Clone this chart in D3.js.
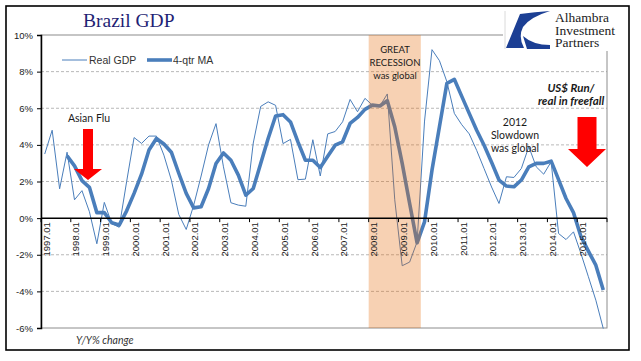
<!DOCTYPE html>
<html lang="en">
<head>
<meta charset="UTF-8">
<title>Brazil GDP</title>
<script src="https://cdn.jsdelivr.net/npm/d3@7"></script>
<style>
  body { margin: 0; background: #fff; }
  svg { display: block; }
</style>
</head>
<body>
<svg width="641" height="361" id="mainsvg"></svg>
<script>
// quarterly categories, 1997.01 .. 2015.04
const years = [1997, 1998, 1999, 2000, 2001, 2002, 2003, 2004, 2005, 2006,
               2007, 2008, 2009, 2010, 2011, 2012, 2013, 2014, 2015];
const quarters = ['01', '02', '03', '04'];
const categories = years.flatMap(y => quarters.map(q => `${y}.${q}`));

// Real GDP, Y/Y %
const realGdp = [
  3.5, 4.8, 1.6, 3.6,   1.0, 1.5, 0.35, -1.4,   0.86, -0.3, -0.5, 2.0,
  4.4, 4.08, 4.48, 4.48,   3.44, 2.08, 0.2, -0.62,   0.7, 2.3, 4.0, 5.16,
  2.8, 0.84, 0.71, 0.65,   4.1, 6.1, 6.35, 6.16,   4.07, 4.3, 2.1, 2.13,
  4.28, 2.3, 4.6, 4.73,   5.26, 6.48, 5.81, 6.54,   6.17, 6.12, 6.78, 1.0,
  -2.6, -2.4, -1.3, 5.3,   9.2, 8.6, 7.45, 5.72,   5.1, 4.6, 3.7, 2.7,
  1.7, 0.8, 2.26, 2.22,   2.71, 3.9, 2.8, 2.4,   3.08, -0.84, -1.17, -0.75,
  -1.93, -3.2, -4.48, -6.03
];

// 4-quarter moving average
const gdpMA = [
  null, null, null, 3.4,   2.85, 2.05, 1.68, 0.3,   0.3, -0.25, -0.38, 0.4,
  1.35, 2.4, 3.72, 4.35,   4.05, 3.6, 2.45, 1.35,   0.56, 0.62, 1.62, 2.98,
  3.56, 3.16, 2.35, 1.25,   1.62, 2.98, 4.35, 5.58,   5.65, 5.25, 4.16, 3.16,
  3.16, 2.76, 3.38, 3.98,   4.17, 5.17, 5.5, 5.94,   6.17, 6.12, 6.41, 4.99,
  2.99, 0.8, -1.35, -0.2,   2.62, 4.99, 7.36, 7.58,   6.65, 5.72, 4.8, 3.98,
  3.05, 2.08, 1.75, 1.71,   2.08, 2.8, 2.99, 2.99,   3.11, 2.1, 1.07, 0.3,
  -1.0, -1.8, -2.57, -3.93
];

const yTicks = [-6, -4, -2, 0, 2, 4, 6, 8, 10];
const recession = ['2008.01', '2009.03'];

const svg = d3.select('#mainsvg');
const plot = { left: 41, right: 607, top: 35, bottom: 328 };

const x = d3.scaleBand().domain(categories).range([plot.left, plot.right]).padding(0);
const y = d3.scaleLinear().domain([-6, 10]).range([plot.bottom, plot.top]);
const xc = d => x(d) + x.bandwidth() / 2;

// outer frame
svg.append('rect').attr('x', 6).attr('y', 6).attr('width', 623).attr('height', 344)
  .attr('fill', '#fff').attr('stroke', '#000').attr('stroke-width', 1.6);

// gridlines
svg.append('g').selectAll('line').data(yTicks.filter(t => t !== 0 && t !== -6 && t !== 10)).join('line')
  .attr('x1', plot.left).attr('x2', plot.right)
  .attr('y1', d => y(d)).attr('y2', d => y(d))
  .attr('stroke', '#a6a6a6').attr('stroke-width', 0.8).attr('stroke-dasharray', '3,2');

// plot border
svg.append('rect').attr('x', plot.left).attr('y', plot.top)
  .attr('width', plot.right - plot.left).attr('height', plot.bottom - plot.top)
  .attr('fill', 'none').attr('stroke', '#8c8c8c').attr('stroke-width', 1);

// lines
const line = d3.line().defined(d => d[1] != null).x(d => xc(d[0])).y(d => y(d[1]));
svg.append('path').datum(categories.map((c, i) => [c, realGdp[i]]))
  .attr('d', line).attr('fill', 'none').attr('stroke', '#4a7ebb').attr('stroke-width', 1)
  .attr('stroke-linejoin', 'miter');
svg.append('path').datum(categories.map((c, i) => [c, gdpMA[i]]))
  .attr('d', line).attr('fill', 'none').attr('stroke', '#4a7ebb').attr('stroke-width', 3.6)
  .attr('stroke-linejoin', 'round');

// recession shading (drawn over the lines, translucent)
svg.append('rect')
  .attr('x', x(recession[0])).attr('y', plot.top)
  .attr('width', x(recession[1]) + x.bandwidth() - x(recession[0]))
  .attr('height', plot.bottom - plot.top)
  .attr('fill', '#e46c0a').attr('opacity', 0.31);

// y axis
const yAxis = d3.axisLeft(y).tickValues(yTicks).tickFormat(d => d + '%').tickSize(4).tickPadding(4);
const yg = svg.append('g').attr('transform', `translate(${plot.left},0)`).call(yAxis);
yg.select('.domain').attr('stroke', '#000').attr('stroke-width', 1.5);
yg.selectAll('.tick line').attr('stroke', '#000');
yg.selectAll('text').attr('font-family', 'Liberation Sans, Arial, sans-serif')
  .attr('font-size', 9.5).attr('fill', '#222');

// x axis at 0%
const q1 = categories.filter(c => c.endsWith('.01'));
const xg = svg.append('g');
xg.append('line').attr('x1', plot.left).attr('x2', plot.right)
  .attr('y1', y(0)).attr('y2', y(0)).attr('stroke', '#000').attr('stroke-width', 1.5);
xg.selectAll('.xt').data(q1.map(c => x(c)).concat([plot.right])).join('line')
  .attr('class', 'xt')
  .attr('x1', d => d).attr('x2', d => d)
  .attr('y1', y(0)).attr('y2', y(0) + 4)
  .attr('stroke', '#000').attr('stroke-width', 1);
xg.selectAll('.xl').data(q1).join('text')
  .attr('class', 'xl')
  .attr('transform', d => `translate(${xc(d) + 1.5},${y(0) + 4}) rotate(-90)`)
  .attr('text-anchor', 'end').attr('dy', '0.35em')
  .attr('font-family', 'Liberation Sans, Arial, sans-serif')
  .attr('font-size', 9.5).attr('fill', '#222')
  .text(d => d);

// title
svg.append('text').attr('x', 83).attr('y', 27)
  .attr('font-family', 'Liberation Serif, Times New Roman, serif')
  .attr('font-size', 19.5).attr('fill', '#1f1f75').text('Brazil GDP');

// legend
const lg = svg.append('g').attr('font-family', 'Liberation Sans, Arial, sans-serif')
  .attr('font-size', 10.5).attr('fill', '#333');
lg.append('line').attr('x1', 62).attr('x2', 87).attr('y1', 60).attr('y2', 60)
  .attr('stroke', '#4a7ebb').attr('stroke-width', 1);
lg.append('text').attr('x', 89).attr('y', 60).attr('dy', '0.35em').text('Real GDP');
lg.append('line').attr('x1', 147).attr('x2', 172).attr('y1', 60).attr('y2', 60)
  .attr('stroke', '#4a7ebb').attr('stroke-width', 3.6);
lg.append('text').attr('x', 173).attr('y', 60).attr('dy', '0.35em').text('4-qtr MA');

// annotations
const note = (lines, cx, cy, size, style) => {
  const t = svg.append('text').attr('text-anchor', 'middle')
    .attr('font-family', 'Lato, Calibri, sans-serif').attr('font-size', size)
    .attr('fill', '#1a1a1a');
  if (style) t.attr('font-style', 'italic').attr('font-weight', 'bold');
  lines.forEach((s, i) => t.append('tspan').attr('x', cx).attr('y', cy + i * 13).attr('dy', '0.35em').text(s));
};
note(['Asian Flu'], 89, 118, 10.5);
note(['GREAT', 'RECESSION', 'was global'], 395, 50, 9.5);
note(['2012', 'Slowdown', 'was global'], 515, 122, 10.5);
note(['US$ Run/', 'real in freefall'], 571, 88, 11.5, true);

svg.append('text').attr('x', 76).attr('y', 340).attr('dy', '0.35em')
  .attr('font-family', 'Lato, Calibri, sans-serif').attr('font-size', 10.5)
  .attr('font-style', 'italic').attr('fill', '#333').text('Y/Y% change');

// red arrows
const arrow = (cx, top, tip, sw, hw, hh) => {
  const base = tip - hh;
  svg.append('path')
    .attr('d', `M${cx - sw / 2},${top} L${cx + sw / 2},${top} L${cx + sw / 2},${base} L${cx + hw / 2},${base}
                L${cx},${tip} L${cx - hw / 2},${base} L${cx - sw / 2},${base} Z`)
    .attr('fill', '#ff0000');
};
arrow(88, 129, 180, 10, 28, 11);
arrow(587, 117, 167, 19, 38, 18);

// logo
const logo = svg.append('g');
logo.append('rect').attr('x', 503).attr('y', 7).attr('width', 125).attr('height', 44).attr('fill', '#fff');
logo.append('line').attr('x1', 505).attr('x2', 505).attr('y1', 11).attr('y2', 49)
  .attr('stroke', '#d0d0d0').attr('stroke-width', 0.8);
logo.append('path')
  .attr('d', 'M506,48 L520,14 Q535,12 550,11 Q530,17 523,27 Q518,37 524,48 Z')
  .attr('fill', '#1c3f94');
logo.append('path')
  .attr('d', 'M523,36 Q533,45 550,45 L550,49 L527,49 Z')
  .attr('fill', '#1c3f94');
const lt = logo.append('text').attr('font-family', 'Liberation Serif, Times New Roman, serif')
  .attr('font-size', 13.5).attr('fill', '#222');
['Alhambra', 'Investment', 'Partners'].forEach((s, i) =>
  lt.append('tspan').attr('x', 555).attr('y', 22 + i * 12.5).text(s));
</script>
</body>
</html>
